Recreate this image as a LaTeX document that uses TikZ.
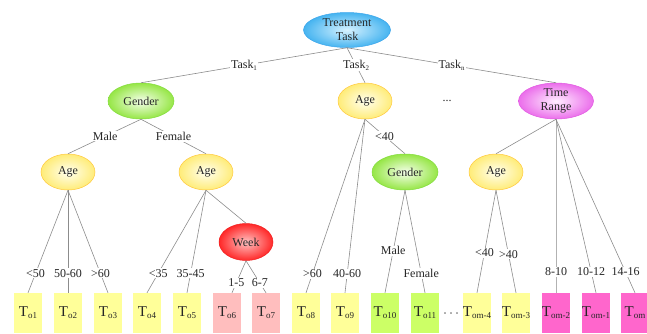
\documentclass[tikz,border=0pt]{standalone}
\usepackage{fontspec}
\setmainfont{Liberation Serif}
\usetikzlibrary{shapes.geometric}
\definecolor{rootO}{RGB}{70,180,240}
\definecolor{rootI}{RGB}{215,242,255}
\definecolor{rootB}{RGB}{60,165,235}
\definecolor{genO}{RGB}{150,230,70}
\definecolor{genI}{RGB}{245,255,235}
\definecolor{genB}{RGB}{130,220,60}
\definecolor{ageO}{RGB}{255,236,120}
\definecolor{ageI}{RGB}{255,255,240}
\definecolor{ageB}{RGB}{255,200,60}
\definecolor{weekO}{RGB}{255,40,40}
\definecolor{weekI}{RGB}{255,195,195}
\definecolor{weekB}{RGB}{240,30,30}
\definecolor{timeO}{RGB}{235,110,235}
\definecolor{timeI}{RGB}{255,238,255}
\definecolor{timeB}{RGB}{225,90,225}
\definecolor{lfY}{RGB}{255,255,153}
\definecolor{lfP}{RGB}{255,190,190}
\definecolor{lfG}{RGB}{204,255,102}
\definecolor{lfM}{RGB}{255,102,204}
\definecolor{edgeC}{RGB}{140,140,140}
\newcommand{\LeafT}[1]{{\fontsize{15}{15}\selectfont T}\raisebox{-2pt}{\fontsize{9}{9}\selectfont #1}}
\newcommand{\TaskSub}[1]{Task\raisebox{-2pt}{\fontsize{7}{7}\selectfont #1}}
\begin{document}
\begin{tikzpicture}[x=1pt,y=-1pt,
  ell/.style={ellipse, inner sep=0pt, align=center, font=\fontsize{12}{14}\selectfont, text=black!85, line width=0.5pt},
  rootnode/.style={ell, minimum width=87pt, minimum height=35pt, draw=rootB, inner color=rootI, outer color=rootO},
  gennode/.style={ell, minimum width=66pt, minimum height=36pt, draw=genB, inner color=genI, outer color=genO},
  agenode/.style={ell, minimum width=54pt, minimum height=36pt, draw=ageB, inner color=ageI, outer color=ageO},
  weeknode/.style={ell, minimum width=54pt, minimum height=37pt, draw=weekB, inner color=weekI, outer color=weekO},
  timenode/.style={ell, minimum width=75pt, minimum height=36pt, draw=timeB, inner color=timeI, outer color=timeO},
  leaf/.style={rectangle, minimum width=28pt, minimum height=40pt, inner sep=0pt, text=black!85},
  lbl/.style={fill=white, inner sep=1pt, font=\fontsize{12}{12}\selectfont, text=black!85},
  edge/.style={draw=edgeC, line width=0.6pt}
]
\useasboundingbox (0,0) rectangle (647,333);

% ellipse nodes
\node[rootnode] (root) at (347,30) {Treatment\\Task};
\node[gennode] (gen1) at (141,101) {Gender};
\node[agenode] (age2) at (365,101) {Age};
\node[timenode] (time) at (556,101) {Time\\Range};
\node[font=\fontsize{12}{12}\selectfont, text=black!85] (dots1) at (447,101) {...};
\node[agenode] (ageM) at (68,172) {Age};
\node[agenode] (ageF) at (206,172) {Age};
\node[weeknode] (week) at (246,242) {Week};
\node[gennode] (gen2) at (405,172) {Gender};
\node[agenode] (age3) at (496,172) {Age};

% leaves
\node[leaf, fill=lfY] (t1) at (28,313) {\LeafT{o1}};
\node[leaf, fill=lfY] (t2) at (68,313) {\LeafT{o2}};
\node[leaf, fill=lfY] (t3) at (108,313) {\LeafT{o3}};
\node[leaf, fill=lfY] (t4) at (147,313) {\LeafT{o4}};
\node[leaf, fill=lfY] (t5) at (187,313) {\LeafT{o5}};
\node[leaf, fill=lfP] (t6) at (227,313) {\LeafT{o6}};
\node[leaf, fill=lfP] (t7) at (266,313) {\LeafT{o7}};
\node[leaf, fill=lfY] (t8) at (306,313) {\LeafT{o8}};
\node[leaf, fill=lfY] (t9) at (345,313) {\LeafT{o9}};
\node[leaf, fill=lfG] (t10) at (385,313) {\LeafT{o10}};
\node[leaf, fill=lfG] (t11) at (425,313) {\LeafT{o11}};
\node[font=\fontsize{12}{12}\selectfont, text=black!85] (dots2) at (451,315) {·\,·\,·};
\node[leaf, fill=lfY] (tm4) at (477,313) {\LeafT{om-4}};
\node[leaf, fill=lfY] (tm3) at (516,313) {\LeafT{om-3}};
\node[leaf, fill=lfM] (tm2) at (556,313) {\LeafT{om-2}};
\node[leaf, fill=lfM] (tm1) at (596,313) {\LeafT{om-1}};
\node[leaf, fill=lfM] (tm) at (635,313) {\LeafT{om}};

% edges
\draw[edge] (root.south) -- node[lbl, pos=0.5] {\TaskSub{1}} (gen1.north);
\draw[edge] (root.south) -- node[lbl, pos=0.5] {\TaskSub{2}} (age2.north);
\draw[edge] (root.south) -- node[lbl, pos=0.5] {\TaskSub{n}} (time.north);

\draw[edge] (gen1.south) -- node[lbl, pos=0.49] {Male} (ageM.north);
\draw[edge] (gen1.south) -- node[lbl, pos=0.5] {Female} (ageF.north);

\draw[edge] (ageM.south) -- node[lbl, pos=0.81] {<50} (t1.north);
\draw[edge] (ageM.south) -- node[lbl, pos=0.81] {50-60} (t2.north);
\draw[edge] (ageM.south) -- node[lbl, pos=0.81] {>60} (t3.north);

\draw[edge] (ageF.south) -- node[lbl, pos=0.81] {<35} (t4.north);
\draw[edge] (ageF.south) -- node[lbl, pos=0.81] {35-45} (t5.north);
\draw[edge] (ageF.south) -- (week.north);

\draw[edge] (week.south) -- node[lbl, pos=0.69] {1-5} ([xshift=5pt]t6.north);
\draw[edge] (week.south) -- node[lbl, pos=0.69] {6-7} (t7.north);

\draw[edge] (age2.south) -- node[lbl, pos=0.89] {>60} (t8.north);
\draw[edge] (age2.south) -- node[lbl, pos=0.89] {40-60} (t9.north);
\draw[edge] (age2.south) -- node[lbl, pos=0.49] {<40} (gen2.north);

\draw[edge] (gen2.south) -- node[lbl, pos=0.59] {Male} (t10.north);
\draw[edge] (gen2.south) -- node[lbl, pos=0.81] {Female} (t11.north);

\draw[edge] (time.south) -- (age3.north);
\draw[edge] (age3.south) -- node[lbl, pos=0.61] {<40} (tm4.north);
\draw[edge] (age3.south) -- node[lbl, pos=0.625] {>40} (tm3.north);
\draw[edge, draw=black!30, line width=1pt] (time.south) -- node[lbl, pos=0.88] {8-10} (tm2.north);
\draw[edge] (time.south) -- node[lbl, pos=0.88] {10-12} (tm1.north);
\draw[edge] (time.south) -- node[lbl, pos=0.88] {14-16} (tm.north);
\end{tikzpicture}
\end{document}
